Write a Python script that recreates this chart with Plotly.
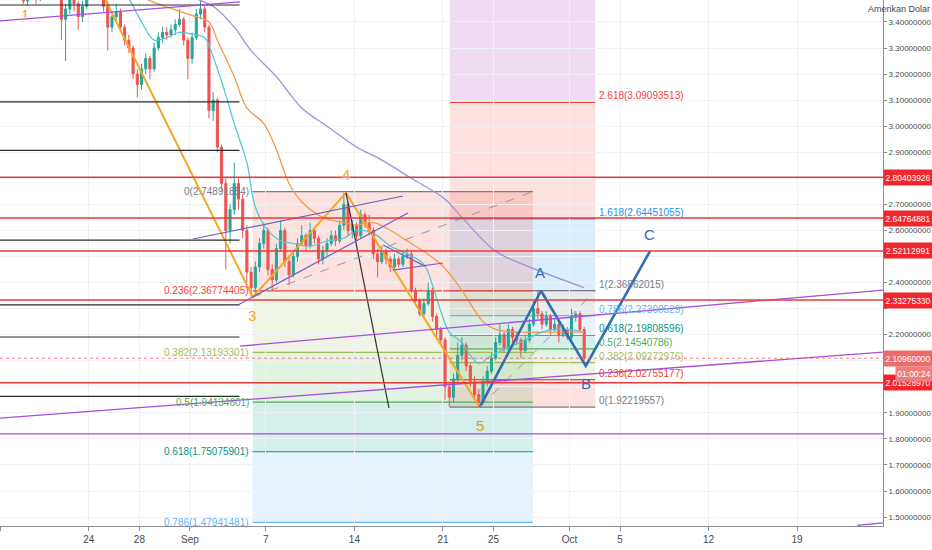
import plotly.graph_objects as go
import pandas as pd

FONT = "Liberation Sans, Arial, sans-serif"

# ---------------- candle data (8h candles) ----------------
candle_start = "2020-08-17 04:00"
first_open = 3.55
closes = [3.57, 3.54, 3.56, 3.53, 3.55, 3.48, 3.51, 3.53, 3.49, 3.52,
          3.55, 3.57, 3.55, 3.53, 3.41, 3.45, 3.49, 3.47, 3.42, 3.46,
          3.50, 3.53, 3.55, 3.52, 3.46, 3.38, 3.42, 3.44, 3.38, 3.33,
          3.30, 3.20, 3.16, 3.22, 3.26, 3.22, 3.30, 3.34, 3.36, 3.35,
          3.37, 3.39, 3.41, 3.33, 3.26, 3.34, 3.43, 3.45, 3.38, 3.06,
          3.10, 2.92, 2.78, 2.60, 2.68, 2.78, 2.72, 2.60, 2.44, 2.38,
          2.46, 2.55, 2.60, 2.45, 2.41, 2.53, 2.60, 2.48, 2.43, 2.50,
          2.55, 2.58, 2.54, 2.60, 2.57, 2.49, 2.52, 2.55, 2.58, 2.56,
          2.62, 2.70, 2.60, 2.62, 2.58, 2.66, 2.63, 2.60, 2.51, 2.48,
          2.52, 2.49, 2.46, 2.49, 2.47, 2.50, 2.51, 2.37, 2.33, 2.28,
          2.32, 2.37, 2.27, 2.22, 2.18, 2.00, 1.96, 2.03, 2.12, 2.16,
          2.08, 2.02, 1.97, 1.94, 2.02, 2.06, 2.11, 2.17, 2.20, 2.15,
          2.22, 2.19, 2.18, 2.14, 2.18, 2.24, 2.30, 2.28, 2.24, 2.27,
          2.22, 2.24, 2.20, 2.22, 2.19, 2.27, 2.28, 2.22, 2.1096]
highs = [3.60, 3.59, 3.58, 3.57, 3.58, 3.54, 3.54, 3.56, 3.54, 3.55,
         3.58, 3.60, 3.59, 3.57, 3.54, 3.47, 3.52, 3.51, 3.48, 3.48,
         3.53, 3.56, 3.58, 3.56, 3.53, 3.48, 3.44, 3.47, 3.45, 3.39,
         3.35, 3.31, 3.22, 3.24, 3.28, 3.27, 3.32, 3.36, 3.38, 3.38,
         3.39, 3.41, 3.45, 3.42, 3.34, 3.36, 3.45, 3.48, 3.46, 3.39,
         3.13, 3.11, 2.93, 2.80, 2.70, 2.86, 2.80, 2.74, 2.62, 2.46,
         2.48, 2.57, 2.63, 2.61, 2.47, 2.55, 2.64, 2.61, 2.50, 2.52,
         2.57, 2.62, 2.59, 2.63, 2.61, 2.58, 2.54, 2.57, 2.60, 2.60,
         2.64, 2.744, 2.71, 2.64, 2.63, 2.68, 2.67, 2.66, 2.61, 2.53,
         2.54, 2.53, 2.50, 2.51, 2.50, 2.52, 2.53, 2.52, 2.38, 2.34,
         2.34, 2.40, 2.38, 2.28, 2.23, 2.19, 2.02, 2.05, 2.17, 2.19,
         2.17, 2.09, 2.04, 1.99, 2.04, 2.08, 2.13, 2.19, 2.24, 2.21,
         2.24, 2.23, 2.21, 2.19, 2.20, 2.26, 2.33, 2.3686, 2.29, 2.29,
         2.28, 2.26, 2.25, 2.24, 2.23, 2.30, 2.29, 2.29, 2.23]
lows = [3.53, 3.51, 3.52, 3.50, 3.51, 3.47, 3.46, 3.50, 3.47, 3.48,
        3.51, 3.54, 3.52, 3.50, 3.33, 3.25, 3.43, 3.44, 3.37, 3.40,
        3.45, 3.49, 3.51, 3.49, 3.44, 3.29, 3.36, 3.40, 3.36, 3.31,
        3.28, 3.18, 3.11, 3.14, 3.20, 3.18, 3.21, 3.29, 3.32, 3.33,
        3.34, 3.35, 3.38, 3.31, 3.18, 3.24, 3.33, 3.41, 3.36, 3.03,
        3.02, 2.90, 2.75, 2.45, 2.55, 2.66, 2.68, 2.57, 2.40, 2.345,
        2.35, 2.44, 2.53, 2.43, 2.37, 2.40, 2.52, 2.46, 2.39, 2.42,
        2.48, 2.54, 2.52, 2.53, 2.55, 2.47, 2.47, 2.50, 2.54, 2.54,
        2.55, 2.60, 2.58, 2.57, 2.56, 2.57, 2.61, 2.58, 2.49, 2.42,
        2.47, 2.47, 2.44, 2.45, 2.46, 2.46, 2.49, 2.36, 2.31, 2.27,
        2.27, 2.31, 2.25, 2.18, 2.16, 1.95, 1.922, 1.94, 2.01, 2.10,
        2.06, 2.00, 1.95, 1.922, 1.93, 2.00, 2.05, 2.10, 2.16, 2.13,
        2.14, 2.17, 2.16, 2.11, 2.13, 2.17, 2.23, 2.26, 2.22, 2.23,
        2.20, 2.21, 2.17, 2.19, 2.18, 2.18, 2.25, 2.21, 2.10]

# ---------------- moving averages ----------------
fast_idx = [28, 30, 33, 36, 39, 42, 46, 48, 49, 51, 53, 55, 58, 60, 63, 66, 69, 73, 77, 81, 84, 88,
            92, 96, 100, 102, 104, 106, 109, 111, 113, 116, 120, 124, 128, 131, 134, 138]
fast_val = [3.53, 3.49, 3.40, 3.33, 3.34, 3.36, 3.35, 3.34, 3.31, 3.22, 3.12, 3.01, 2.86, 2.69, 2.60,
            2.56, 2.55, 2.54, 2.56, 2.57, 2.60, 2.59, 2.54, 2.51, 2.47, 2.39, 2.29, 2.21, 2.17, 2.12,
            2.09, 2.12, 2.15, 2.18, 2.21, 2.22, 2.22, 2.21]
mid_idx = [32, 34, 44, 49, 51, 55, 58, 62, 65, 68, 71, 76, 81, 84, 88, 96, 104, 109, 114, 117, 124, 131, 138]
mid_val = [3.52, 3.49, 3.43, 3.40, 3.33, 3.19, 3.07, 3.01, 2.91, 2.78, 2.71, 2.65, 2.63, 2.62, 2.63,
           2.56, 2.47, 2.37, 2.25, 2.22, 2.21, 2.21, 2.21]
slow_idx = [44, 46, 50, 55, 59, 65, 71, 77, 84, 90, 97, 105, 109, 117, 125, 133, 138]
slow_val = [3.52, 3.49, 3.46, 3.38, 3.29, 3.19, 3.07, 3.00, 2.92, 2.87, 2.80, 2.72, 2.65, 2.52, 2.46, 2.41, 2.38]

# ---------------- drawings ----------------
red_levels = [2.80403926, 2.64764881, 2.52112991, 2.33275330, 2.01528970]
black_levels = [3.465, 3.093, 2.907, 2.563, 2.314, 2.191, 1.963]
black_end = "2020-09-04 22:00"
last_price = 2.1096
countdown = "01:00:24"

fibL_ratios = [0, 0.236, 0.382, 0.5, 0.618, 0.786]
fibL_prices = [2.74891854, 2.36774405, 2.13193301, 1.94134601, 1.75075901, 1.47941481]
fibL_span = ["2020-09-05 23:00", "2020-09-28 02:40"]

fibR_ratios = [0, 0.236, 0.382, 0.5, 0.618, 0.786, 1, 1.618, 2.618, 3.618]
fibR_prices = [1.92219557, 2.02755177, 2.09272976, 2.14540786, 2.19808596, 2.27300529,
               2.36862015, 2.64451055, 3.09093513, 3.53736]
fibR_span = ["2020-09-21 13:00", "2020-10-03 01:00"]

impulse_dates = ["2020-08-24 15:30", "2020-09-05 23:30", "2020-09-13 08:00", "2020-09-23 22:00"]
impulse_prices = [3.55, 2.344, 2.744, 1.922]
abc_dates = ["2020-09-23 22:00", "2020-09-28 18:00", "2020-10-02 07:00", "2020-10-07 09:00"]
abc_prices = [1.922, 2.3686, 2.080, 2.521]
black_diag_dates = ["2020-09-13 08:00", "2020-09-16 17:30"]
black_diag_prices = [2.744, 1.919]

wave_labels = ["1", "3", "4", "5", "A", "B", "C"]
wave_label_dates = ["2020-08-18 22:00", "2020-09-05 21:30", "2020-09-13 08:00", "2020-09-23 22:00",
                    "2020-09-28 16:00", "2020-10-02 07:00", "2020-10-07 07:00"]
wave_label_prices = [3.427, 2.272, 2.813, 1.853, 2.437, 2.011, 2.586]

purple_lines = [  # (date0, price0, date1, price1)
    ("2020-08-16 23:30", 3.404, "2020-09-04 22:50", 3.477),
    ("2020-09-04 22:50", 2.156, "2020-10-25 19:00", 2.371),
    ("2020-08-16 23:30", 1.880, "2020-10-25 19:00", 2.133),
    ("2020-08-16 23:30", 1.819, "2020-10-25 19:00", 1.819),
    ("2020-10-23 18:00", 1.468, "2020-10-25 19:00", 1.478),
]
channel_lines = [
    ("2020-09-01 05:40", 2.567, "2020-09-17 20:10", 2.732),
    ("2020-09-04 19:00", 2.314, "2020-09-18 05:35", 2.667),
    ("2020-09-16 06:10", 2.544, "2020-09-19 13:50", 2.463),
    ("2020-09-17 01:10", 2.448, "2020-09-21 00:00", 2.475),
]
dashed_lines = [
    ("2020-09-05 23:30", 2.344, "2020-09-28 02:40", 2.7489),
    ("2020-09-23 22:00", 1.922, "2020-10-03 01:00", 2.3686),
]

x_tick_dates = ["2020-08-17", "2020-08-24", "2020-08-28", "2020-09-01", "2020-09-07", "2020-09-14",
                "2020-09-21", "2020-09-25", "2020-10-01", "2020-10-05", "2020-10-12", "2020-10-19"]
x_tick_text = ["17", "24", "28", "Sep", "7", "14", "21", "25", "Oct", "5", "12", "19"]
y_tick_vals = [1.5, 1.6, 1.7, 1.8, 1.9, 2.0, 2.1, 2.2, 2.3, 2.4, 2.5, 2.6, 2.7, 2.8, 2.9, 3.0, 3.1, 3.2, 3.3, 3.4]
y_hidden = [2.0, 2.1, 2.3, 2.5, 2.8]

# ---------------- build ----------------
dates = pd.date_range(candle_start, periods=len(closes), freq="8h")
opens = [first_open] + closes[:-1]
hi = [max(h, o, c) for h, o, c in zip(highs, opens, closes)]
lo = [min(l, o, c) for l, o, c in zip(lows, opens, closes)]

lvl_color = {0: "#787b86", 0.236: "#f44336", 0.382: "#a3bd5c", 0.5: "#4caf50", 0.618: "#009688",
             0.786: "#64b5f6", 1: "#787b86", 1.618: "#2196f3", 2.618: "#f44336", 3.618: "#9c27b0"}


def rgba(hx, a):
    hx = hx.lstrip("#")
    return "rgba(%d,%d,%d,%.3f)" % (int(hx[0:2], 16), int(hx[2:4], 16), int(hx[4:6], 16), a)


fig = go.Figure()

fig.add_trace(go.Candlestick(
    x=dates, open=opens, high=hi, low=lo, close=closes,
    increasing=dict(line=dict(color="#26a69a", width=1), fillcolor="#26a69a"),
    decreasing=dict(line=dict(color="#ef5350", width=1), fillcolor="#ef5350"),
    whiskerwidth=0, showlegend=False, hoverinfo="skip"))

for idx, val, col in [(slow_idx, slow_val, "#9c93d6"), (mid_idx, mid_val, "#f39a4a"), (fast_idx, fast_val, "#56c9d6")]:
    fig.add_trace(go.Scatter(x=[dates[i] for i in idx], y=val, mode="lines",
                             line=dict(color=col, width=1.3, shape="spline", smoothing=1.0),
                             showlegend=False, hoverinfo="skip"))

fig.add_trace(go.Scatter(x=impulse_dates, y=impulse_prices, mode="lines",
                         line=dict(color="#f5a623", width=2), showlegend=False, hoverinfo="skip"))
fig.add_trace(go.Scatter(x=black_diag_dates, y=black_diag_prices, mode="lines",
                         line=dict(color="#333333", width=1.2), showlegend=False, hoverinfo="skip"))
fig.add_trace(go.Scatter(x=abc_dates, y=abc_prices, mode="lines",
                         line=dict(color="#2f6fb3", width=2.6), showlegend=False, hoverinfo="skip"))

shapes = []
annotations = []


def fib_bands(ratios, prices, span, alpha):
    for i in range(1, len(ratios)):
        shapes.append(dict(type="rect", xref="x", yref="y", x0=span[0], x1=span[1],
                           y0=prices[i - 1], y1=prices[i], fillcolor=rgba(lvl_color[ratios[i]], alpha),
                           line=dict(width=0), layer="below"))
    for r, p in zip(ratios, prices):
        shapes.append(dict(type="line", xref="x", yref="y", x0=span[0], x1=span[1], y0=p, y1=p,
                           line=dict(color=lvl_color[r], width=1.2), layer="below"))


fib_bands(fibR_ratios, fibR_prices, fibR_span, 0.16)
fib_bands(fibL_ratios, fibL_prices, fibL_span, 0.16)

for r, p in zip(fibL_ratios, fibL_prices):
    annotations.append(dict(x=fibL_span[0], y=p, xref="x", yref="y", xanchor="right", yanchor="middle",
                            xshift=-2, text="%g(%.8f)" % (r, p), showarrow=False,
                            font=dict(size=10, color=lvl_color[r], family=FONT)))
for r, p in zip(fibR_ratios[:-1], fibR_prices[:-1]):
    annotations.append(dict(x=fibR_span[1], y=p, xref="x", yref="y", xanchor="left", yanchor="bottom",
                            xshift=2, yshift=-1, text="%g(%.8f)" % (r, p), showarrow=False,
                            font=dict(size=10, color=lvl_color[r], family=FONT)))

for d0, p0, d1, p1 in dashed_lines:
    shapes.append(dict(type="line", xref="x", yref="y", x0=d0, y0=p0, x1=d1, y1=p1,
                       line=dict(color="#9a9a9a", width=1, dash="dash")))

for p in black_levels:
    shapes.append(dict(type="line", xref="x", yref="y", x0="2020-08-16 23:30", x1=black_end, y0=p, y1=p,
                       line=dict(color="#2a2a2a", width=1.2)))

for d0, p0, d1, p1 in purple_lines:
    shapes.append(dict(type="line", xref="x", yref="y", x0=d0, y0=p0, x1=d1, y1=p1,
                       line=dict(color="#a64ee0", width=1.3)))
for d0, p0, d1, p1 in channel_lines:
    shapes.append(dict(type="line", xref="x", yref="y", x0=d0, y0=p0, x1=d1, y1=p1,
                       line=dict(color="#6b62c9", width=1.2)))

for p in red_levels:
    shapes.append(dict(type="line", xref="paper", yref="y", x0=0, x1=1, y0=p, y1=p,
                       line=dict(color="#ea3a3a", width=1.5)))
shapes.append(dict(type="line", xref="paper", yref="y", x0=0, x1=1, y0=last_price, y1=last_price,
                   line=dict(color="rgba(239,83,80,0.7)", width=1, dash="dot")))

wave_colors = ["#f5a623", "#f5a623", "#f5a623", "#d2a21a", "#2f6fb3", "#2f6fb3", "#2f6fb3"]
for t, d, p, c in zip(wave_labels, wave_label_dates, wave_label_prices, wave_colors):
    annotations.append(dict(x=d, y=p, xref="x", yref="y", text=t, showarrow=False,
                            font=dict(size=15, color=c, family=FONT)))

TAGF = dict(size=8.5, color="white", family=FONT)
for p in red_levels:
    annotations.append(dict(xref="paper", x=1, xanchor="left", yref="y", y=p, yanchor="middle",
                            text="%.8f" % p, showarrow=False, bgcolor="#f0262c", width=48, height=15,
                            borderpad=0, font=TAGF))
annotations.append(dict(xref="paper", x=1, xanchor="left", yref="y", y=last_price, yanchor="middle",
                        text="%.8f" % last_price, showarrow=False, bgcolor="#ee6b6b", width=48, height=15,
                        borderpad=0, font=TAGF))
annotations.append(dict(xref="paper", x=1, xanchor="left", xshift=12, yref="y", y=last_price, yanchor="top",
                        yshift=-8, text=countdown, showarrow=False, bgcolor="#ee7d7d", width=36, height=14,
                        borderpad=0, font=TAGF))
annotations.append(dict(xref="paper", yref="paper", x=1.0555, y=1, xanchor="right", yanchor="top", yshift=-2,
                        text="Amerikan Dolar", showarrow=False, font=dict(size=9, color="#4a4a4a", family=FONT)))

fig.update_layout(
    width=932, height=550, margin=dict(l=0, r=49, t=0, b=24, autoexpand=False),
    paper_bgcolor="white", plot_bgcolor="white",
    shapes=shapes, annotations=annotations, showlegend=False,
    font=dict(family=FONT, size=10, color="#4a4a4a"),
    xaxis=dict(range=["2020-08-16 23:30", "2020-10-25 19:00"], rangeslider=dict(visible=False),
               tickvals=x_tick_dates, ticktext=x_tick_text, showgrid=True, gridcolor="#eef1f6",
               showline=True, linecolor="#8a8e99", linewidth=1, ticks="outside", ticklen=4,
               tickcolor="#8a8e99", tickfont=dict(size=10, color="#4a4a4a", family=FONT), zeroline=False,
               automargin=False),
    yaxis=dict(range=[1.4658, 3.4842], side="right", tickvals=y_tick_vals,
               ticktext=["" if v in y_hidden else "%.8f" % v for v in y_tick_vals],
               showgrid=True, gridcolor="#eef1f6", showline=True, linecolor="#8a8e99", linewidth=1,
               ticks="outside", ticklen=3, tickcolor="#8a8e99",
               tickfont=dict(size=8, color="#4a4a4a", family=FONT),
               zeroline=False, automargin=False),
)

fig.write_html("out.html", config={"displayModeBar": False},
               post_script="document.body.style.margin='0px';document.body.style.overflow='hidden';")
